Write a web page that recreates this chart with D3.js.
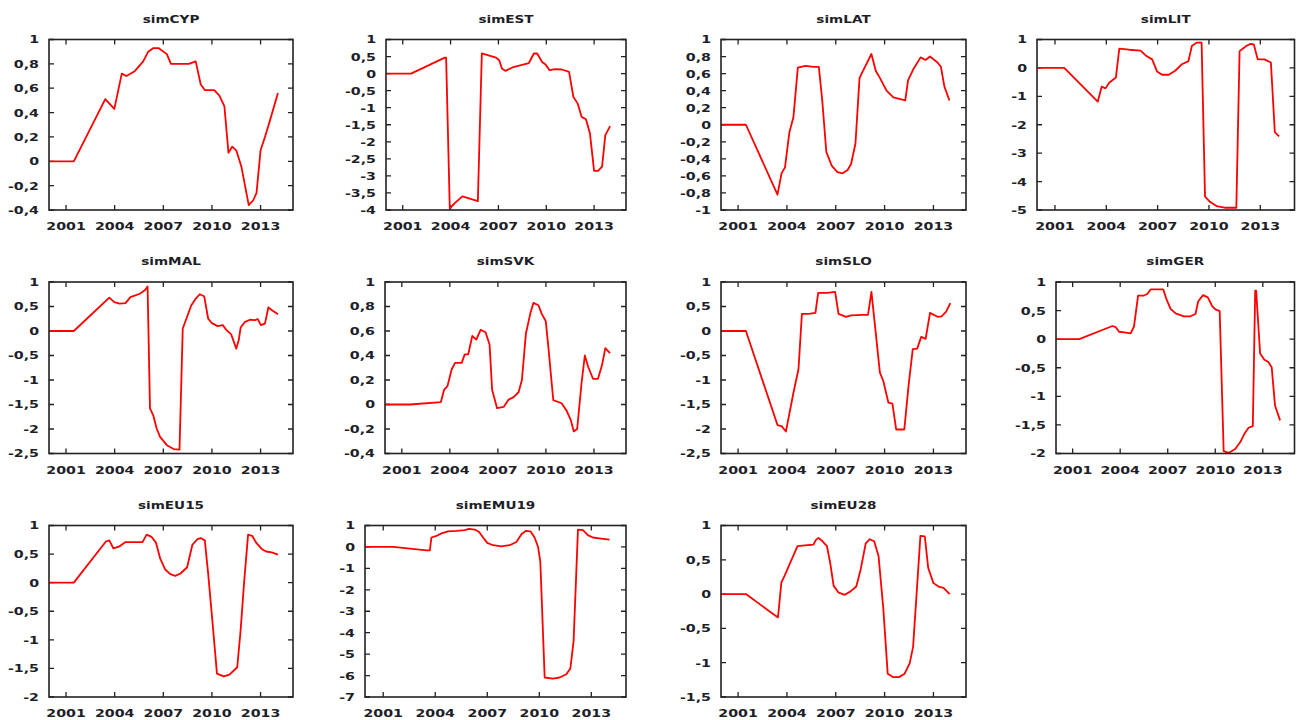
<!DOCTYPE html>
<html>
<head>
<meta charset="utf-8">
<script src="https://cdn.jsdelivr.net/npm/d3@7"></script>
<style>
  body { margin: 0; background: #ffffff; }
  text { font-family: "DejaVu Sans", Verdana, sans-serif; fill: #1e1e28; }
</style>
</head>
<body>
<svg id="chart" width="1301" height="720"></svg>
<script>
// ---------------- DATA ----------------
const panelTitles = ["simCYP", "simEST", "simLAT", "simLIT", "simMAL", "simSVK", "simSLO", "simGER", "simEU15", "simEMU19", "simEU28"];
const xTickYears = [2001, 2004, 2007, 2010, 2013];
const yDomains = [[-0.4, 1], [-4, 1], [-1, 1], [-5, 1], [-2.5, 1], [-0.4, 1], [-2.5, 1], [-2, 1], [-2, 1], [-7, 1], [-1.5, 1]];
const yTickSteps = [0.2, 0.5, 0.2, 1, 0.5, 0.2, 0.5, 0.5, 0.5, 1, 0.5];

const simCYP = [[2000,0],[2001.48,0],[2003.42,0.51],[2003.98,0.43],[2004.44,0.72],[2004.72,0.70],[2005.24,0.74],[2005.76,0.82],[2006.07,0.90],[2006.39,0.93],[2006.70,0.93],[2007.22,0.88],[2007.47,0.80],[2008.06,0.80],[2008.58,0.80],[2009.0,0.82],[2009.31,0.63],[2009.56,0.585],[2010.14,0.585],[2010.46,0.54],[2010.77,0.45],[2011.02,0.07],[2011.25,0.12],[2011.5,0.09],[2011.81,-0.04],[2012.27,-0.36],[2012.55,-0.32],[2012.75,-0.26],[2013.0,0.09],[2013.27,0.20],[2013.59,0.34],[2014.07,0.56]];
const simEST = [[2000,0],[2001.52,0],[2003.64,0.47],[2003.72,0.47],[2003.95,-3.95],[2004.26,-3.8],[2004.74,-3.6],[2005.71,-3.74],[2005.96,0.59],[2006.85,0.47],[2007.05,0.39],[2007.22,0.15],[2007.43,0.08],[2007.88,0.18],[2008.91,0.31],[2009.22,0.59],[2009.43,0.59],[2009.74,0.34],[2009.95,0.27],[2010.21,0.10],[2010.57,0.13],[2010.98,0.12],[2011.43,0.05],[2011.70,-0.68],[2011.97,-0.88],[2012.22,-1.27],[2012.49,-1.34],[2012.74,-1.76],[2013.0,-2.85],[2013.25,-2.85],[2013.5,-2.73],[2013.7,-1.81],[2014.0,-1.54]];
const simLAT = [[2000,0],[2001.48,0],[2003.42,-0.82],[2003.67,-0.57],[2003.88,-0.50],[2004.15,-0.09],[2004.40,0.09],[2004.67,0.67],[2005.13,0.69],[2005.65,0.68],[2005.96,0.68],[2006.17,0.285],[2006.42,-0.32],[2006.75,-0.48],[2007.1,-0.555],[2007.42,-0.57],[2007.73,-0.53],[2007.94,-0.46],[2008.21,-0.22],[2008.46,0.55],[2008.77,0.67],[2009.19,0.83],[2009.46,0.63],[2009.71,0.55],[2010.12,0.40],[2010.54,0.32],[2010.96,0.30],[2011.27,0.285],[2011.44,0.52],[2011.79,0.66],[2012.21,0.79],[2012.52,0.76],[2012.79,0.80],[2013.25,0.73],[2013.46,0.68],[2013.67,0.45],[2013.98,0.285]];
const simLIT = [[2000,0],[2001.54,0],[2003.50,-1.19],[2003.73,-0.66],[2003.95,-0.72],[2004.18,-0.51],[2004.56,-0.34],[2004.76,0.68],[2005.34,0.64],[2006.0,0.61],[2006.30,0.44],[2006.68,0.30],[2006.97,-0.13],[2007.26,-0.24],[2007.65,-0.24],[2008.03,-0.10],[2008.42,0.13],[2008.80,0.24],[2009.0,0.77],[2009.28,0.89],[2009.57,0.89],[2009.77,-4.53],[2010.06,-4.71],[2010.44,-4.86],[2010.92,-4.92],[2011.6,-4.92],[2011.79,0.59],[2012.18,0.77],[2012.43,0.85],[2012.62,0.83],[2012.85,0.30],[2013.24,0.30],[2013.62,0.19],[2013.85,-2.26],[2014.1,-2.41]];
const simMAL = [[2000,0],[2001.48,0],[2003.67,0.68],[2003.98,0.59],[2004.30,0.56],[2004.67,0.57],[2004.97,0.69],[2005.55,0.76],[2005.86,0.83],[2006.03,0.91],[2006.18,-1.58],[2006.38,-1.72],[2006.59,-1.99],[2006.80,-2.16],[2007.22,-2.33],[2007.64,-2.41],[2008.0,-2.42],[2008.2,0.05],[2008.47,0.29],[2008.72,0.52],[2009.0,0.66],[2009.25,0.75],[2009.52,0.71],[2009.77,0.25],[2010.0,0.16],[2010.35,0.10],[2010.67,0.12],[2010.87,0.03],[2011.19,-0.07],[2011.5,-0.36],[2011.65,-0.19],[2011.77,0.07],[2012.02,0.18],[2012.34,0.23],[2012.65,0.22],[2012.82,0.245],[2013.02,0.12],[2013.27,0.15],[2013.48,0.48],[2013.73,0.42],[2014.07,0.34]];
const simSVK = [[2000,0],[2001.52,0],[2003.44,0.02],[2003.64,0.12],[2003.85,0.15],[2004.12,0.29],[2004.33,0.34],[2004.74,0.34],[2004.93,0.41],[2005.15,0.41],[2005.40,0.56],[2005.65,0.53],[2005.92,0.61],[2006.23,0.59],[2006.48,0.49],[2006.64,0.12],[2006.95,-0.03],[2007.36,-0.02],[2007.67,0.04],[2007.98,0.06],[2008.29,0.10],[2008.50,0.20],[2008.75,0.58],[2009.02,0.74],[2009.22,0.83],[2009.53,0.81],[2009.74,0.74],[2009.99,0.68],[2010.15,0.47],[2010.46,0.035],[2010.98,0.01],[2011.29,-0.05],[2011.56,-0.13],[2011.74,-0.22],[2011.95,-0.20],[2012.22,0.17],[2012.43,0.40],[2012.63,0.31],[2012.94,0.21],[2013.25,0.21],[2013.50,0.32],[2013.71,0.46],[2014.0,0.42]];
const simSLO = [[2000,0],[2001.48,0],[2003.42,-1.92],[2003.67,-1.94],[2003.94,-2.05],[2004.40,-1.26],[2004.71,-0.78],[2004.92,0.35],[2005.33,0.35],[2005.75,0.37],[2005.92,0.78],[2006.48,0.78],[2006.96,0.80],[2007.17,0.35],[2007.63,0.29],[2007.94,0.32],[2008.67,0.33],[2008.98,0.33],[2009.19,0.80],[2009.40,0.14],[2009.71,-0.85],[2009.92,-1.02],[2010.23,-1.46],[2010.48,-1.48],[2010.71,-2.01],[2011.21,-2.01],[2011.48,-1.09],[2011.73,-0.37],[2012.0,-0.36],[2012.25,-0.12],[2012.52,-0.16],[2012.79,0.37],[2013.25,0.29],[2013.5,0.30],[2013.77,0.39],[2014.04,0.57]];
const simGER = [[2000,0],[2001.42,0],[2003.51,0.23],[2003.72,0.21],[2003.93,0.13],[2004.25,0.12],[2004.66,0.10],[2004.87,0.22],[2005.13,0.76],[2005.46,0.76],[2005.71,0.79],[2005.92,0.87],[2006.34,0.87],[2006.72,0.87],[2006.93,0.69],[2007.18,0.53],[2007.50,0.45],[2008.02,0.40],[2008.43,0.40],[2008.75,0.44],[2008.92,0.66],[2009.23,0.77],[2009.53,0.73],[2009.80,0.58],[2010.01,0.52],[2010.28,0.49],[2010.53,-1.96],[2010.84,-1.99],[2011.26,-1.92],[2011.58,-1.80],[2011.83,-1.66],[2012.10,-1.55],[2012.37,-1.52],[2012.52,0.85],[2012.58,0.85],[2012.83,-0.25],[2013.10,-0.36],[2013.35,-0.40],[2013.56,-0.49],[2013.77,-1.16],[2014.09,-1.42]];
const simEU15 = [[2000,0],[2001.48,0],[2003.46,0.72],[2003.67,0.74],[2003.92,0.60],[2004.26,0.63],[2004.67,0.71],[2005.24,0.71],[2005.72,0.71],[2005.97,0.84],[2006.28,0.80],[2006.55,0.70],[2006.80,0.43],[2007.12,0.23],[2007.43,0.15],[2007.74,0.12],[2008.06,0.16],[2008.47,0.27],[2008.79,0.66],[2009.10,0.76],[2009.31,0.78],[2009.56,0.74],[2009.77,0.15],[2010.04,-0.71],[2010.31,-1.59],[2010.73,-1.64],[2011.08,-1.61],[2011.56,-1.48],[2011.77,-0.83],[2011.98,-0.01],[2012.23,0.84],[2012.48,0.82],[2012.75,0.69],[2013.07,0.59],[2013.34,0.545],[2013.69,0.53],[2014.07,0.49]];
const simEMU19 = [[2000,0],[2001.58,0],[2003.50,-0.16],[2003.69,-0.16],[2003.78,0.44],[2004.03,0.5],[2004.36,0.63],[2004.74,0.73],[2005.22,0.75],[2005.70,0.78],[2005.95,0.84],[2006.28,0.81],[2006.53,0.70],[2006.76,0.44],[2007.0,0.19],[2007.33,0.08],[2007.81,0.03],[2008.29,0.08],[2008.68,0.23],[2008.97,0.59],[2009.22,0.75],[2009.49,0.73],[2009.73,0.44],[2009.93,0.0],[2010.06,-0.70],[2010.31,-6.09],[2010.79,-6.14],[2011.17,-6.09],[2011.56,-5.94],[2011.79,-5.67],[2011.98,-4.38],[2012.23,0.81],[2012.52,0.78],[2012.80,0.55],[2013.09,0.44],[2013.57,0.39],[2014.05,0.34]];
const simEU28 = [[2000,0],[2001.48,0],[2003.45,-0.34],[2003.66,0.17],[2003.86,0.27],[2004.28,0.50],[2004.65,0.70],[2005.11,0.71],[2005.63,0.72],[2005.78,0.79],[2005.94,0.82],[2006.19,0.77],[2006.46,0.70],[2006.66,0.45],[2006.87,0.12],[2007.18,0.02],[2007.56,-0.01],[2007.91,0.04],[2008.26,0.11],[2008.53,0.36],[2008.84,0.74],[2009.09,0.80],[2009.36,0.77],[2009.63,0.55],[2009.92,-0.21],[2010.19,-1.16],[2010.51,-1.21],[2010.88,-1.21],[2011.23,-1.16],[2011.54,-1.01],[2011.75,-0.77],[2012.20,0.85],[2012.47,0.84],[2012.68,0.38],[2013.0,0.16],[2013.31,0.11],[2013.62,0.09],[2013.83,0.04],[2014.0,0.0]];

const seriesList = [simCYP, simEST, simLAT, simLIT, simMAL, simSVK, simSLO, simGER, simEU15, simEMU19, simEU28];
const xDomain = [1999.95, 2015.0];

// ---------------- LAYOUT ----------------
const boxLeft = [49, 386, 721, 1037, 49, 385, 721, 1056, 49, 365, 721];
const colRight = [293, 626, 966, 1294.5];
const rowTop = [39.5, 282, 525.5];
const rowBottom = [210, 453.5, 697];
const textScaleX = 1.29;
const titleScaleX = 1.36;

const locale = d3.formatLocale({decimal: ",", thousands: ".", grouping: [3], currency: ["", ""], minus: "-"});
const fmt = locale.format(".1~f");

const svg = d3.select("#chart");

panelTitles.forEach((title, i) => {
  const row = Math.floor(i / 4), col = i % 4;
  const L = boxLeft[i], R = colRight[col], T = rowTop[row], B = rowBottom[row];
  const x = d3.scaleLinear().domain(xDomain).range([L, R]);
  const y = d3.scaleLinear().domain(yDomains[i]).range([B, T]);
  const g = svg.append("g");

  const [y0, y1] = yDomains[i];
  const step = yTickSteps[i];
  const n = Math.round((y1 - y0) / step);
  const yTicks = d3.range(n + 1).map(k => +(y0 + k * step).toFixed(6));

  // ticks (mirrored, inward)
  const tl = 5;
  g.selectAll(".xt").data(xTickYears).join("path")
    .attr("d", d => `M${x(d)},${B}V${B - tl}M${x(d)},${T}V${T + tl}`)
    .attr("stroke", "#222").attr("stroke-width", 1.3).attr("fill", "none");
  g.selectAll(".yt").data(yTicks).join("path")
    .attr("d", d => `M${L},${y(d)}H${L + tl}M${R},${y(d)}H${R - tl}`)
    .attr("stroke", "#222").attr("stroke-width", 1.3).attr("fill", "none");

  // line
  const line = d3.line().x(d => x(d[0])).y(d => y(d[1]));
  g.append("path").datum(seriesList[i])
    .attr("d", line)
    .attr("fill", "none")
    .attr("stroke", "#ff0000")
    .attr("stroke-width", 1.8)
    .attr("stroke-linejoin", "round");

  // box
  g.append("rect").attr("x", L).attr("y", T).attr("width", R - L).attr("height", B - T)
    .attr("fill", "none").attr("stroke", "#222").attr("stroke-width", 1.6);

  // y labels
  g.selectAll(".yl").data(yTicks).join("text")
    .attr("transform", d => `translate(${L - 10},${y(d)}) scale(${textScaleX},1)`)
    .attr("dy", "0.36em")
    .attr("text-anchor", "end")
    .attr("font-size", 11)
    .attr("font-weight", "bold")
    .text(d => fmt(d));

  // x labels
  g.selectAll(".xl").data(xTickYears).join("text")
    .attr("transform", d => `translate(${x(d)},${B + 20}) scale(${textScaleX},1)`)
    .attr("text-anchor", "middle")
    .attr("font-size", 11)
    .attr("font-weight", "bold")
    .text(d => d);

  // title
  g.append("text")
    .attr("transform", `translate(${(L + R) / 2},${T - 17}) scale(${titleScaleX},1)`)
    .attr("text-anchor", "middle")
    .attr("font-size", 10)
    .attr("font-weight", "bold")
    .text(title);
});
</script>
</body>
</html>
